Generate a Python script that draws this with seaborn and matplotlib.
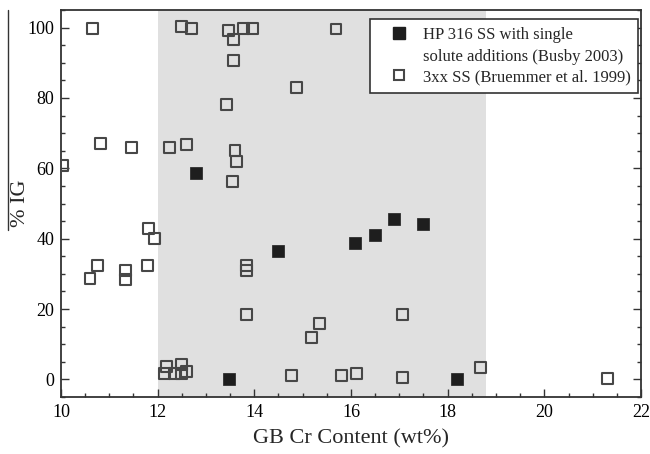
import matplotlib
matplotlib.use("Agg")
import matplotlib.pyplot as plt
from matplotlib.lines import Line2D
from matplotlib.legend_handler import HandlerLine2D
from matplotlib.ticker import MultipleLocator
import seaborn as sns
import pandas as pd

# HP 316 SS with single solute additions (Busby 2003)
busby_cr = [12.8, 13.48, 14.49, 16.08, 16.49, 16.9, 17.48, 18.19]
busby_ig = [58.7, 0.0, 36.6, 38.9, 41.0, 45.5, 44.3, 0.0]

# 3xx SS (Bruemmer et al. 1999)
bruemmer_cr = [10.04, 10.66, 10.82, 11.46, 12.25, 12.6, 12.49, 12.7,
               10.6, 10.75, 11.33, 11.33, 11.78, 11.82, 11.93,
               12.14, 12.18, 12.34, 12.49, 12.5, 12.6,
               13.46, 13.57, 13.77, 13.96, 15.69, 13.57, 14.87, 13.43,
               13.6, 13.63, 13.54,
               13.83, 13.83, 13.83, 14.76, 15.34, 15.19, 15.81, 16.12,
               17.07, 17.07, 18.67, 21.3]
bruemmer_ig = [60.8, 99.7, 67.0, 65.9, 65.9, 66.8, 100.4, 99.7,
               28.7, 32.4, 31.0, 28.5, 32.4, 43.0, 40.0,
               1.7, 3.7, 1.7, 4.3, 1.7, 2.3,
               99.2, 96.6, 99.7, 99.7, 99.6, 90.7, 82.9, 78.2,
               65.0, 62.0, 56.2,
               32.4, 30.9, 18.5, 1.1, 15.9, 12.0, 1.1, 1.7,
               18.5, 0.5, 3.4, 0.3]

label_busby = "HP 316 SS with single\nsolute additions (Busby 2003)"
label_bruemmer = "3xx SS (Bruemmer et al. 1999)"

cr_band = (12.0, 18.8)

busby = pd.DataFrame({"cr": busby_cr, "ig": busby_ig})
bruemmer = pd.DataFrame({"cr": bruemmer_cr, "ig": bruemmer_ig})

sns.set_theme(style="ticks")
plt.rcParams["font.family"] = ["Liberation Serif", "DejaVu Serif"]


class TopLineHandler(HandlerLine2D):
    """Place the marker beside the first line of a multi-line label."""

    def __init__(self, shift=0.0, **kw):
        super().__init__(**kw)
        self.shift = shift

    def create_artists(self, legend, orig_handle, xdescent, ydescent,
                       width, height, fontsize, trans):
        artists = super().create_artists(legend, orig_handle, xdescent,
                                         ydescent, width, height, fontsize,
                                         trans)
        for a in artists:
            a.set_ydata([y + self.shift for y in a.get_ydata()])
        return artists


fig = plt.figure(figsize=(6.5, 4.54), dpi=100)
ax = fig.add_axes([61 / 650, 1 - 397 / 454, 580 / 650, 387 / 454])

ax.axvspan(*cr_band, color="#e0e0e0", lw=0, zorder=0)

sns.scatterplot(data=bruemmer, x="cr", y="ig", ax=ax, marker="s", s=62,
                facecolor="none", edgecolor="#474747", linewidth=1.5,
                zorder=3, legend=False)
sns.scatterplot(data=busby, x="cr", y="ig", ax=ax, marker="s", s=72,
                color="#1e1e1e", edgecolor="#1e1e1e", linewidth=0.5,
                zorder=4, legend=False)

ax.set_xlim(10, 22)
ax.set_ylim(-5, 105)
ax.xaxis.set_major_locator(MultipleLocator(2))
ax.xaxis.set_minor_locator(MultipleLocator(0.5))
ax.yaxis.set_major_locator(MultipleLocator(20))
ax.yaxis.set_minor_locator(MultipleLocator(5))
ax.tick_params(which="both", direction="in", top=False, right=True,
               colors="#333333", labelcolor="black", labelsize=13)
ax.tick_params(which="major", length=6, width=1.0, pad=5)
ax.tick_params(which="minor", length=3, width=1.0)
for sp in ax.spines.values():
    sp.set_linewidth(1.3)
    sp.set_color("#333333")

ax.set_xlabel("GB Cr Content (wt%)", fontsize=16, labelpad=6)
ax.set_ylabel("% IG", fontsize=16)
ax.yaxis.set_label_coords(-0.054, 0.5)

handles = [
    Line2D([], [], ls="none", marker="s", ms=8, mfc="#1e1e1e", mec="#1e1e1e"),
    Line2D([], [], ls="none", marker="s", ms=7.5, mfc="none", mec="#474747",
           mew=1.5),
]
leg = ax.legend(handles, [label_busby, label_bruemmer], loc="upper right",
                bbox_to_anchor=(0.9948, 0.9767), fontsize=12, frameon=True,
                fancybox=False, edgecolor="#333333", framealpha=1,
                handlelength=2.48, handletextpad=0.2, labelspacing=0.25,
                borderpad=0.45, borderaxespad=0.0,
                handler_map={handles[0]: TopLineHandler(shift=9.5)})
leg.get_frame().set_linewidth(1.2)
for t in leg.get_texts():
    t.set_linespacing(1.55)

# thin rule at the left edge beside the y label
fig.add_artist(Line2D([8 / 650, 8 / 650], [1 - 10 / 454, 1 - 230 / 454],
                      color="#333333", lw=1.0))

fig.savefig("out.png", dpi=100)
